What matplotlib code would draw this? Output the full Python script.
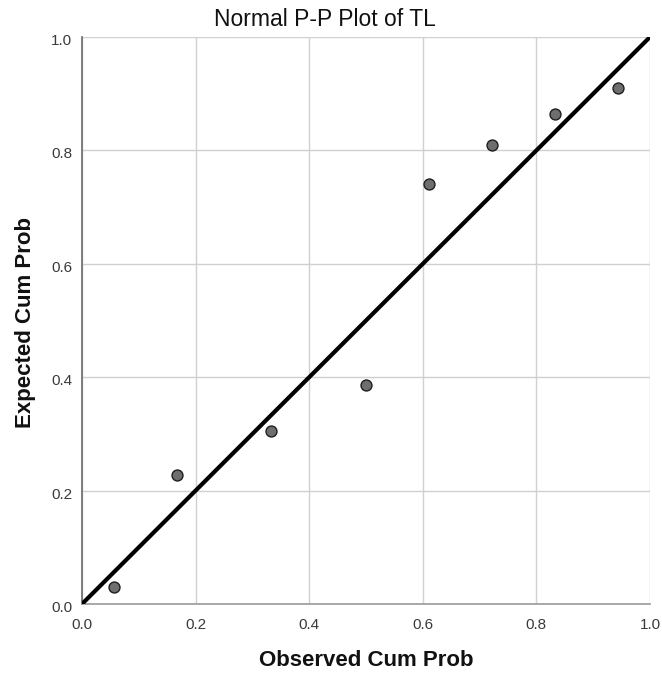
import matplotlib
matplotlib.use("Agg")
import matplotlib.pyplot as plt
import matplotlib.transforms as mtransforms

observed = [0.056, 0.167, 0.333, 0.500, 0.611, 0.722, 0.833, 0.944]
expected = [0.030, 0.228, 0.305, 0.387, 0.740, 0.810, 0.865, 0.910]
ticks = [0.0, 0.2, 0.4, 0.6, 0.8, 1.0]
tick_labels = ["0.0", "0.2", "0.4", "0.6", "0.8", "1.0"]

plt.rcParams['font.family'] = ['Liberation Sans', 'DejaVu Sans']
W, H = 662, 677
fig = plt.figure(figsize=(W/100, H/100), dpi=100)
ax = fig.add_axes([82/W, 73/H, 568/W, 567/H])
ax.set_xlim(0, 1)
ax.set_ylim(0, 1)
ax.set_xticks(ticks)
ax.set_yticks(ticks)
ax.set_xticklabels(tick_labels)
ax.set_yticklabels(tick_labels)
ax.tick_params(length=0, labelsize=11, colors='#3a3a3a')
ax.tick_params(axis='x', pad=10)
ax.tick_params(axis='y', pad=7)
off = mtransforms.ScaledTranslation(0, -2.5/100, fig.dpi_scale_trans)
for lab in ax.get_yticklabels():
    lab.set_transform(lab.get_transform() + off)
ax.grid(True, color='#d0d0d0', linewidth=1)
ax.set_axisbelow(True)
for s in ['top', 'right']:
    ax.spines[s].set_visible(False)
ax.spines['left'].set_color('#6a6a6a')
ax.spines['left'].set_linewidth(1.2)
ax.spines['bottom'].set_color('#9a9a9a')
ax.spines['bottom'].set_linewidth(1.2)
ax.plot([0, 1], [0, 1], color='black', linewidth=3, zorder=3, solid_capstyle='butt')
ax.scatter(observed, expected, s=62, facecolor='#6e6e6e', edgecolor='#1e1e1e',
           linewidth=1, zorder=4, clip_on=False)
fig.text(325/W, 1 - 20/H, "Normal P-P Plot of TL", fontsize=16.5,
         ha='center', va='center', color='#111111')
fig.text(366/W, 1 - 661/H, "Observed Cum Prob", fontsize=16, fontweight='bold',
         ha='center', va='center', color='#111111')
fig.text(26/W, 1 - 322/H, "Expected Cum Prob", fontsize=16, fontweight='bold',
         ha='center', va='center', rotation=90, color='#111111')
fig.savefig("out.png", dpi=100)
